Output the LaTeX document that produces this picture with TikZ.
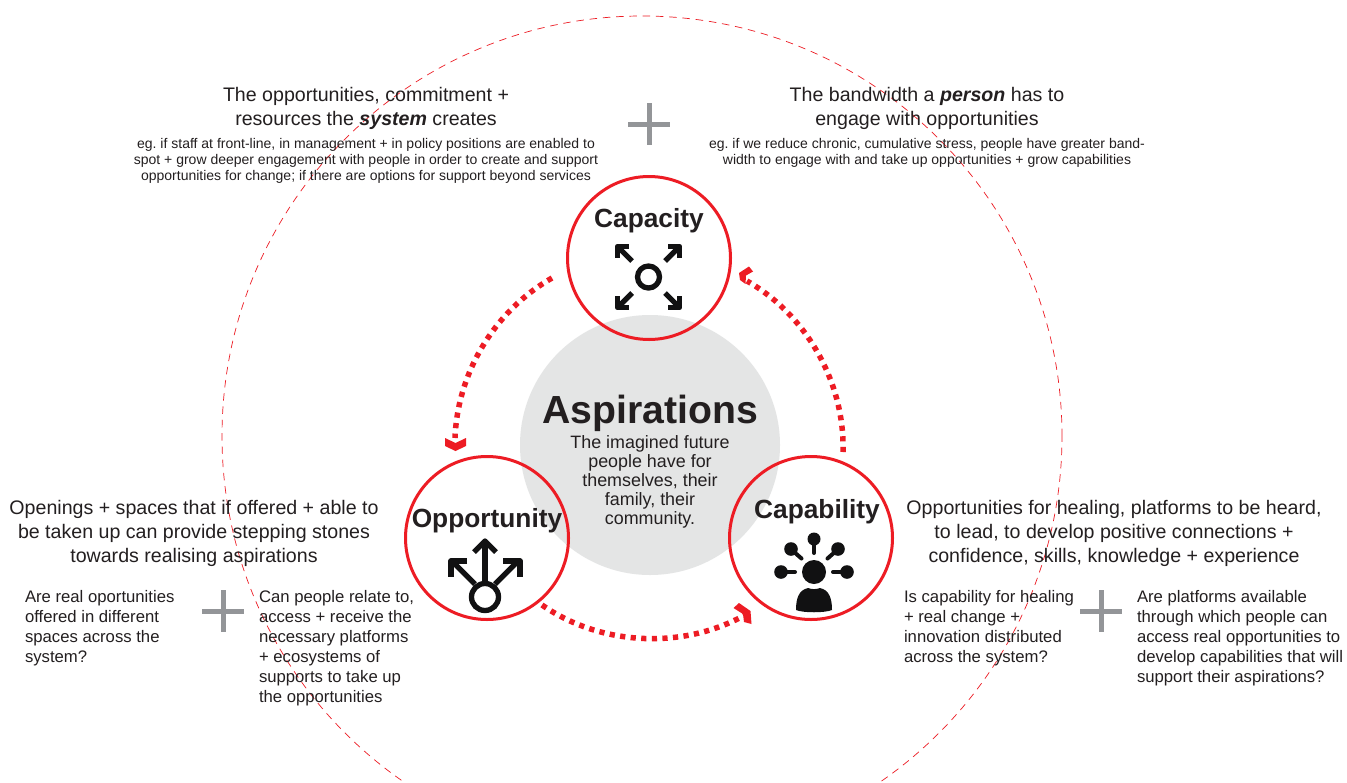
\documentclass[tikz,border=0pt]{standalone}
\usepackage{fontspec}
\setmainfont{Liberation Sans}
\frenchspacing
\definecolor{rd}{HTML}{ED1C24}
\definecolor{txt}{HTML}{231F20}
\definecolor{pl}{HTML}{939598}
\definecolor{gy}{HTML}{E4E5E5}
\definecolor{ic}{HTML}{111112}
\tikzset{
  head/.style={inner sep=0,outer sep=0,align=center,text=txt,font=\fontsize{19.6}{24}\selectfont},
  small/.style={inner sep=0,outer sep=0,align=center,text=txt,font=\fontsize{14}{16}\selectfont},
  ques/.style={inner sep=0,outer sep=0,align=left,text=txt,anchor=west,font=\fontsize{16.7}{20}\selectfont},
  title/.style={inner sep=0,outer sep=0,text=txt,font=\fontsize{26.3}{30}\selectfont\bfseries},
  hub/.style={circle,draw=rd,line width=3pt,minimum size=163pt,inner sep=0,outer sep=0},
  dots/.style={draw=rd,line width=5.5pt,dash pattern=on 5.2pt off 5.4pt,looseness=.9},
  tip/.style={fill=rd,draw=none},
  plusbar/.style={draw=pl,line width=5pt},
  icn/.style={draw=ic,line width=5.3pt,line join=round,fill=none},
  icnf/.style={fill=ic,draw=none},
  stem/.style={draw=ic,line width=4pt,line cap=round}
}
\begin{document}
\begin{tikzpicture}[x=1pt,y=-1pt]
\clip (0,0) rectangle (1347,782);
\fill[white] (0,0) rectangle (1347,782);
% big dashed ring and centre disc
\node[circle,draw=rd,line width=.7pt,dash pattern=on 7.5pt off 5.8pt,minimum size=840pt,inner sep=0] (ring) at (642,436) {};
\node[circle,fill=gy,minimum size=260pt,inner sep=0] (centre) at (650,445) {};
% hubs
\node[hub] (capacity) at (649,258) {};
\node[hub] (opportunity) at (487,538) {};
\node[hub] (capability) at (811,538) {};
% connectors
\coordinate (a1) at (552,278); \coordinate (a2) at (455,438);
\coordinate (b1) at (843,452); \coordinate (b2) at (747,281);
\coordinate (c1) at (542,605); \coordinate (c2) at (745,615);
\draw[dots] (a1) to[bend right=29] (a2);
\draw[dots] (b1) to[bend right=31] (b2);
\draw[dots] (c1) to[bend right=32] (c2);
\fill[tip] (445,438) -- (455.5,443) -- (466,438) -- (466,446) -- (455.5,451) -- (445,446) -- cycle;
\fill[tip] (739,273) -- (749,266.5) -- (753,271.5) -- (746,275.5) -- (745.5,284) -- (740,280) -- cycle;
\fill[tip] (733.5,608) -- (739,603) -- (750.5,611) -- (751.5,624) -- (744,622) -- (743,614) -- cycle;
% plus signs
\draw[plusbar] (628,124) -- (670,124); \draw[plusbar] (649,103) -- (649,145);
\draw[plusbar] (202,611) -- (244,611); \draw[plusbar] (223,590) -- (223,632);
\draw[plusbar] (1080,611) -- (1122,611); \draw[plusbar] (1101,590) -- (1101,632);
% texts
\node[head] (t1) at (366,108) {The opportunities, commitment +\\resources the \textbf{\textit{system}} creates};
\node[small] (t2) at (366,161) {eg. if staff at front-line, in management + in policy positions are enabled to\\spot + grow deeper engagement with people in order to create and support\\opportunities for change; if there are options for support beyond services};
\node[head] (t3) at (927,108) {The bandwidth a \textbf{\textit{person}} has to\\engage with opportunities};
\node[small] (t4) at (927,153) {eg. if we reduce chronic, cumulative stress, people have greater band-\\width to engage with and take up opportunities + grow capabilities};
\node[head] (t5) at (194,533.5) {Openings + spaces that if offered + able to\\be taken up can provide stepping stones\\towards realising aspirations};
\node[head] (t6) at (1114,533.5) {Opportunities for healing, platforms to be heard,\\to lead, to develop positive connections +\\confidence, skills, knowledge + experience};
\node[ques] (q1) at (25,628) {Are real oportunities\\offered in different\\spaces across the\\system?};
\node[ques] (q2) at (259,648) {Can people relate to,\\access + receive the\\necessary platforms\\+ ecosystems of\\supports to take up\\the opportunities};
\node[ques] (q3) at (904,628) {Is capability for healing\\+ real change +\\innovation distributed\\across the system?};
\node[ques] (q4) at (1137,638) {Are platforms available\\through which people can\\access real opportunities to\\develop capabilities that will\\support their aspirations?};
\node[inner sep=0,text=txt,font=\fontsize{39.2}{40}\selectfont\bfseries] (asp) at (650,413) {Aspirations};
\node[inner sep=0,align=center,text=txt,font=\fontsize{17.9}{19}\selectfont] (aspsub) at (650,482) {The imagined future\\people have for\\themselves, their\\family, their\\community.};
\node[title] (l1) at (649,221) {Capacity};
\node[title] (l2) at (487,521) {Opportunity};
\node[title] (l3) at (817,512) {Capability};
% capacity icon
\draw[icn] (648.5,277) circle[radius=11];
\draw[icn] (632,261) -- (619,248); \draw[icn] (629,246.5) -- (617.5,246.5) -- (617.5,258);
\draw[icn] (665,261) -- (678,248); \draw[icn] (668,246.5) -- (679.5,246.5) -- (679.5,258);
\draw[icn] (632,293) -- (619,306); \draw[icn] (629,307.5) -- (617.5,307.5) -- (617.5,296);
\draw[icn] (665,293) -- (678,306); \draw[icn] (668,307.5) -- (679.5,307.5) -- (679.5,296);
% opportunity icon
\draw[icn] (485,597) circle[radius=13.5];
\draw[icn] (485,583) -- (485,541); \draw[icn] (474,552) -- (485,541) -- (496,552);
\draw[icn] (475,584) -- (452,561); \draw[icn] (467,561) -- (451,561) -- (451,577);
\draw[icn] (495,584) -- (518,561); \draw[icn] (503,561) -- (520,561) -- (520,577);
% capability icon
\fill[icnf] (814,572) circle[radius=12];
\fill[icnf] (796,610) .. controls (796,598) and (799,590) .. (808,588) .. controls (812,589.5) and (816,589.5) .. (820,588) .. controls (829,590) and (832,598) .. (832,610) .. controls (825,613) and (803,613) .. (796,610) -- cycle;
\fill[icnf] (814,539) circle[radius=6.5];
\fill[icnf] (791,549) circle[radius=6.8];
\fill[icnf] (838,549) circle[radius=6.8];
\fill[icnf] (781,572) circle[radius=6.8];
\fill[icnf] (847,572) circle[radius=6.8];
\draw[stem] (814,543) -- (814,553);
\draw[stem] (793,551) -- (801.5,558.5);
\draw[stem] (836,551) -- (827.5,558.5);
\draw[stem] (785,572) -- (795,572);
\draw[stem] (843,572) -- (833,572);
\end{tikzpicture}
\end{document}
